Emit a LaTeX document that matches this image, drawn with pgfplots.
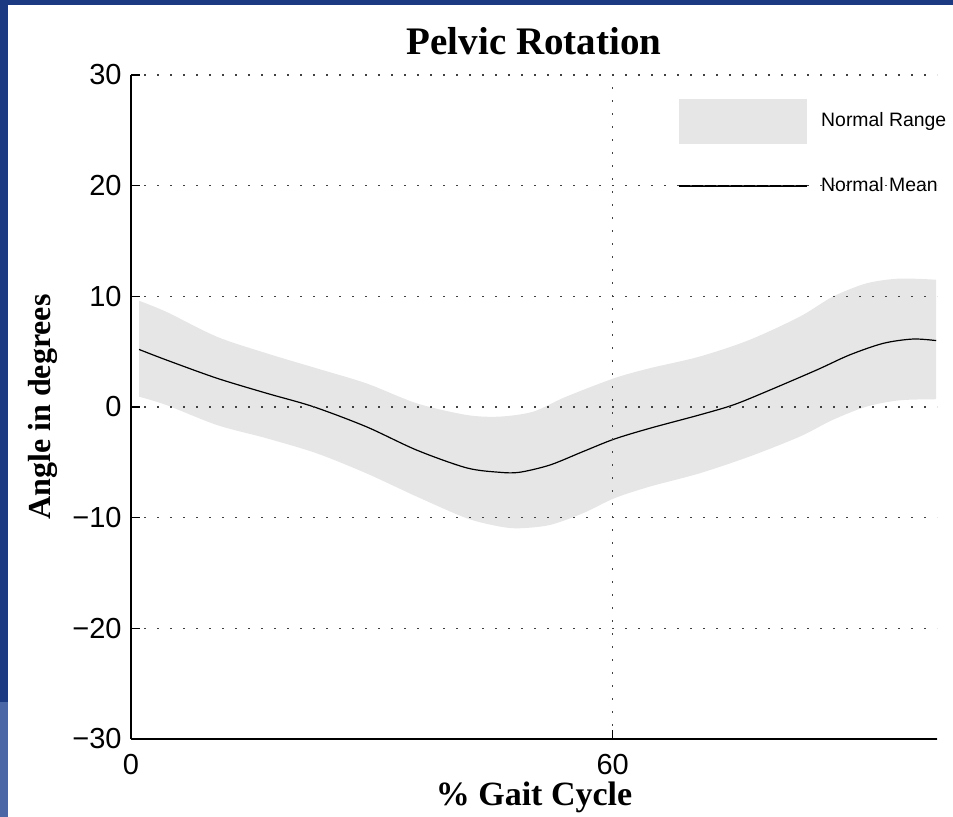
\documentclass[border=0pt]{standalone}
\usepackage{fontspec}
\setmainfont{Liberation Serif}
\setsansfont{Liberation Sans}
\usepackage{pgfplots}
\pgfplotsset{compat=1.18}
\usepgfplotslibrary{fillbetween}
\definecolor{slideblue}{HTML}{1B3A82}
\definecolor{slidelight}{HTML}{4B67A5}
\definecolor{bandgray}{HTML}{E6E6E6}
\begin{document}
\begin{tikzpicture}
\path (0,0) rectangle (476.5pt,408.5pt);
\fill[slideblue] (0,406pt) rectangle (476.5pt,408.5pt);
\fill[slideblue] (0,57.5pt) rectangle (4pt,408.5pt);
\fill[slidelight] (0,0) rectangle (4pt,57.5pt);
\begin{axis}[
  at={(65.5pt,39pt)}, anchor=south west,
  scale only axis, width=403pt, height=332pt,
  xmin=0, xmax=100.4, ymin=-30, ymax=30,
  axis lines*=left, axis line style={line width=1pt, -},
  tick align=inside, major tick length=4.5pt,
  tick style={black, line width=0.8pt},
  xtick={0,60}, ytick={-30,-20,-10,0,10,20,30},
  yticklabels={−30,−20,−10,0,10,20,30},
  xticklabels={0,60},
  ticklabel style={font=\fontsize{14.5}{16}\selectfont\sffamily},
  yticklabel style={anchor=east, inner sep=0pt, xshift=-4.5pt},
  xticklabel style={anchor=north, inner sep=0pt, yshift=-7.5pt},
  grid=major,
  major grid style={dash pattern=on 0.8pt off 5.7pt, line width=0.8pt, black!75},
  axis on top,
  title={Pelvic Rotation},
  title style={at={(axis description cs:0.5,1)}, anchor=base, yshift=4pt, font=\fontsize{19.5}{22}\selectfont\bfseries},
  xlabel={\% Gait Cycle},
  xlabel style={at={(axis description cs:0.5,0)}, anchor=base, yshift=-33.5pt, inner sep=0pt, font=\fontsize{17}{20}\selectfont\bfseries},
  ylabel={Angle in degrees},
  ylabel style={at={(axis description cs:-0.1005,0.5)}, anchor=base, font=\fontsize{16}{18}\selectfont\bfseries},
  legend cell align=left,
  legend style={draw=none, fill=none, inner sep=0pt, outer sep=0pt,
    at={(axis description cs:0.6787,0.9639)}, anchor=north west,
    font=\fontsize{9.7}{11}\selectfont\sffamily,
    row sep=9.75pt, column sep=7pt, nodes={inner sep=0pt}},
]
\addplot[name path=upper, draw=none, smooth, forget plot] coordinates {
(1,9.6)(4.4,8.6)(10.7,6.35)(16.9,4.85)(23.1,3.5)(29.3,2.14)(35.6,0.33)(41.8,-0.72)(45.9,-0.87)(50.1,-0.42)(54.2,0.93)(60.2,2.6)(64.6,3.5)(70.8,4.55)(77,6.05)(83.3,8.16)(87.4,9.96)(91.6,11.17)(95.7,11.6)(100.3,11.5)};
\addplot[name path=lower, draw=none, smooth, forget plot] coordinates {
(1,0.93)(4.4,0.18)(10.7,-1.63)(16.9,-2.83)(23.1,-4.18)(29.3,-5.99)(35.6,-8.1)(41.8,-10.05)(45.9,-10.8)(48.4,-10.96)(52.2,-10.66)(56.3,-9.6)(60.2,-8.25)(64.6,-7.2)(70.8,-6.0)(77,-4.49)(83.3,-2.68)(87.4,-1.17)(91.6,0.03)(95.7,0.6)(100.3,0.7)};
\addplot[bandgray, draw=none, fill=bandgray,
  legend image code/.code={\fill[bandgray] (0pt,-11.25pt) rectangle (64pt,11.25pt);}]
  fill between[of=upper and lower];
\addlegendentry{Normal Range}
\addplot[black, line width=0.6pt, smooth,
  legend image code/.code={\path[draw=none,fill=none] (0pt,-11.25pt) rectangle (64pt,11.25pt); \draw[black,line width=0.6pt] (0pt,0pt) -- (64pt,0pt);}]
  coordinates {
(1,5.2)(4.4,4.25)(10.7,2.6)(16.9,1.24)(22.7,0.03)(29.3,-1.78)(35.6,-3.9)(41.8,-5.5)(45.9,-5.9)(48.4,-5.9)(52.2,-5.24)(56.3,-4.03)(60.2,-2.9)(64.6,-1.93)(70.8,-0.72)(75,0.18)(79.1,1.38)(85.4,3.34)(89.5,4.7)(93.7,5.75)(97.4,6.14)(100.3,6.0)};
\addlegendentry{Normal Mean}
\end{axis}
\end{tikzpicture}
\end{document}
